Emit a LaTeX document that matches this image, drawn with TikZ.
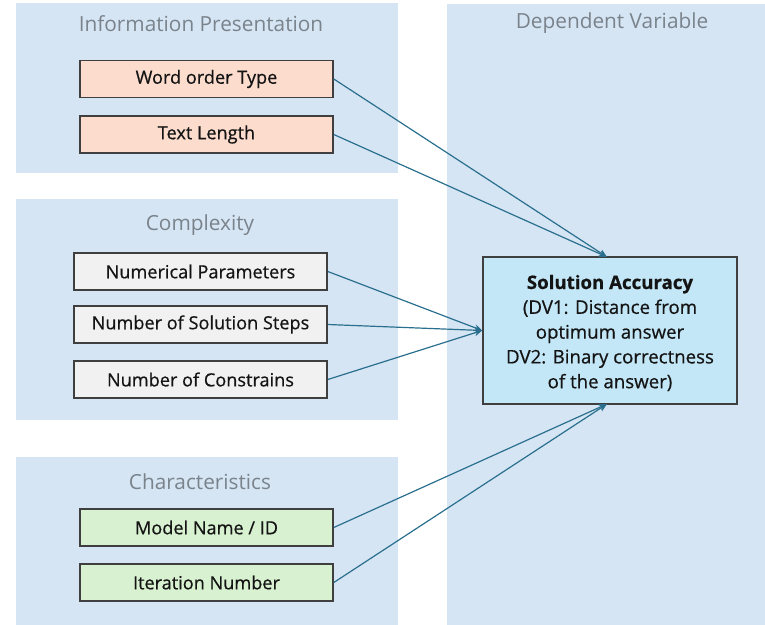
\documentclass[tikz,border=0pt]{standalone}
\usepackage{fontspec}
\setmainfont{Open Sans}
\newfontfamily\mediumfont[FakeBold=0.6]{Open Sans}
\usetikzlibrary{arrows.meta}
\definecolor{panelblue}{HTML}{D5E5F3}
\definecolor{salmon}{HTML}{FBDCCD}
\definecolor{greybox}{HTML}{F1F1F1}
\definecolor{greenbox}{HTML}{D8F1D0}
\definecolor{cyanbox}{HTML}{C3E7F6}
\definecolor{titlegrey}{HTML}{7A838C}
\definecolor{edgegrey}{HTML}{3F3F3F}
\definecolor{arrowcol}{HTML}{2A6F8E}
\tikzset{
  panel/.style={fill=panelblue},
  paneltitle/.style={text=titlegrey, font=\fontsize{15.6}{18}\selectfont},
  varbox/.style={draw=edgegrey, line width=1.2pt, minimum width=253*0.75pt, minimum height=37*0.75pt, inner sep=0pt, text=black!92, font=\mediumfont\fontsize{13.6}{16}\selectfont},
  salbox/.style={varbox, fill=salmon},
  greyvar/.style={varbox, fill=greybox},
  greenvar/.style={varbox, fill=greenbox},
  dvbox/.style={draw=edgegrey, line width=1.2pt, fill=cyanbox, minimum width=254*0.75pt, minimum height=147*0.75pt, align=center, text=black!92, font=\mediumfont\fontsize{14}{18.6}\selectfont},
  link/.style={draw=arrowcol, line width=0.9pt, -{Stealth[length=6pt,width=5pt]}}
}
\begin{document}
\begin{tikzpicture}[x=0.75pt,y=-0.75pt]
\useasboundingbox (0,0) rectangle (765,625);
\fill[panel] (16,3) rectangle (398,173);
\fill[panel] (16,199) rectangle (398,420);
\fill[panel] (16,457) rectangle (398,625);
\fill[panel] (447,4) rectangle (765,625);

\node[paneltitle] (t1) at (201,23.5) {Information Presentation};
\node[paneltitle] (t2) at (200,225.5) {Complexity};
\node[paneltitle] (t3) at (200,481.5) {Characteristics};
\node[paneltitle] (t4) at (612,23.5) {Dependent Variable};

\node[salbox] (wot) at (206.5,79) {Word order Type};
\node[salbox] (tl) at (206.5,134.5) {Text Length};
\node[greyvar] (np) at (200.5,271.5) {Numerical Parameters};
\node[greyvar] (ns) at (200.5,324.5) {Number of Solution Steps};
\node[greyvar] (nc) at (200.5,379.5) {Number of Constrains};
\node[greenvar] (mn) at (206.5,527.5) {Model Name / ID};
\node[greenvar] (it) at (206.5,582.5) {Iteration Number};

\node[dvbox] (sa) at (610,330.5) {};
\node[align=center, text=black!92, font=\mediumfont\fontsize{14}{18.6}\selectfont] (satext) at (610,333) {\textbf{Solution Accuracy}\\(DV1: Distance from\\optimum answer\\DV2: Binary correctness\\of the answer)};

\coordinate (satop) at (607,257);
\coordinate (sabot) at (607,404);
\draw[link] (wot.east) -- (satop);
\draw[link] (tl.east) -- (satop);
\draw[link] (np.east) -- (sa.west);
\draw[link] (ns.east) -- (sa.west);
\draw[link] (nc.east) -- (sa.west);
\draw[link] (mn.east) -- (sabot);
\draw[link] (it.east) -- (sabot);
\end{tikzpicture}
\end{document}
